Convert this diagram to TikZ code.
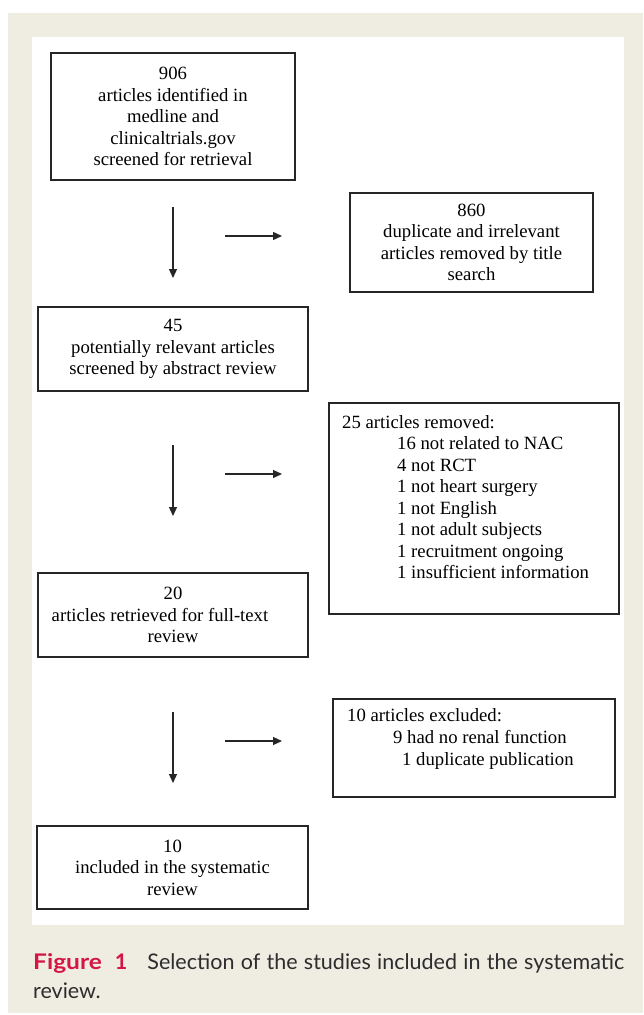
\documentclass[tikz,border=0pt]{standalone}
\usepackage{fontspec}
\setmainfont{Liberation Serif}
\newfontfamily\capfont{Lato}
\usetikzlibrary{arrows.meta,calc}
\definecolor{beige}{RGB}{239,236,226}
\definecolor{figred}{RGB}{212,22,68}
\definecolor{captext}{RGB}{45,45,45}
\begin{document}
\begin{tikzpicture}[x=1pt,y=-1pt,
  box/.style={draw=black!85, line width=1.2pt, align=center, inner sep=0pt,
    font=\fontsize{18.7}{21.5}\selectfont},
  txt/.style={anchor=base west, inner sep=0pt, font=\fontsize{18.7}{21.5}\selectfont},
  arr/.style={draw=black!85, line width=1.3pt, -{Triangle[length=9pt,width=8pt]}}]
\useasboundingbox (0,0) rectangle (643,1015);
\fill[white] (0,0) rectangle (643,1015);
\fill[beige] (8,13) rectangle (643,1013);
\fill[white] (32,37) rectangle (624,925);

% left column
\node[box, minimum width=244, minimum height=127] (b1) at (173,116.5)
  {906\\articles identified in\\medline and\\clinicaltrials.gov\\screened for retrieval};
\node[box, minimum width=270, minimum height=84] (b2) at (173,349)
  {45\\potentially relevant articles\\screened by abstract review};
\node[box, minimum width=270, minimum height=84] (b3) at (173,615)
  {20\\articles retrieved for full-text\hbox to 26pt{\hfil}\\review};
\node[box, minimum width=271, minimum height=83] (b4) at (172.5,867.5)
  {10\\included in the systematic\\review};

% right column
\node[box, minimum width=243, minimum height=99] (r1) at (471.5,242.5)
  {860\\duplicate and irrelevant\\articles removed by title\\search};
\node[box, minimum width=290, minimum height=211] (r2) at (474,508.5) {};
\node[txt] (r2a) at (342,428) {25 articles removed:};
\node[txt] (r2b) at (397,449.5) {16 not related to NAC};
\node[txt] (r2c) at (397,471) {4 not RCT};
\node[txt] (r2d) at (397,492.5) {1 not heart surgery};
\node[txt] (r2e) at (397,514) {1 not English};
\node[txt] (r2f) at (397,535.5) {1 not adult subjects};
\node[txt] (r2g) at (397,557) {1 recruitment ongoing};
\node[txt] (r2h) at (397,578.5) {1 insufficient information};
\node[box, minimum width=282, minimum height=98] (r3) at (474,748) {};
\node[txt] (r3a) at (347,721) {10 articles excluded:};
\node[txt] (r3b) at (393,743) {9 had no renal function};
\node[txt] (r3c) at (402,765) {1 duplicate publication};

% arrows
\coordinate (d1s) at (173,207); \coordinate (d1e) at (173,278);
\coordinate (d2s) at (173,445); \coordinate (d2e) at (173,516);
\coordinate (d3s) at (173,712); \coordinate (d3e) at (173,783);
\coordinate (h1s) at (225,236); \coordinate (h1e) at (282,236);
\coordinate (h2s) at (225,474); \coordinate (h2e) at (282,474);
\coordinate (h3s) at (225,741); \coordinate (h3e) at (282,741);
\draw[arr] (d1s) -- (d1e);
\draw[arr] (d2s) -- (d2e);
\draw[arr] (d3s) -- (d3e);
\draw[arr] (h1s) -- (h1e);
\draw[arr] (h2s) -- (h2e);
\draw[arr] (h3s) -- (h3e);

% caption
\node[anchor=base west, inner sep=0pt, align=left, text=captext,
  font=\capfont\fontsize{21.5}{29}\selectfont] (cap) at (33,998)
  {\makebox[591pt][s]{{\bfseries\color{figred}\scalebox{1.14}[1]{Figure}\hspace{13pt}1}\hspace{20pt}Selection of the studies included in the systematic}\\review.};
\end{tikzpicture}
\end{document}
